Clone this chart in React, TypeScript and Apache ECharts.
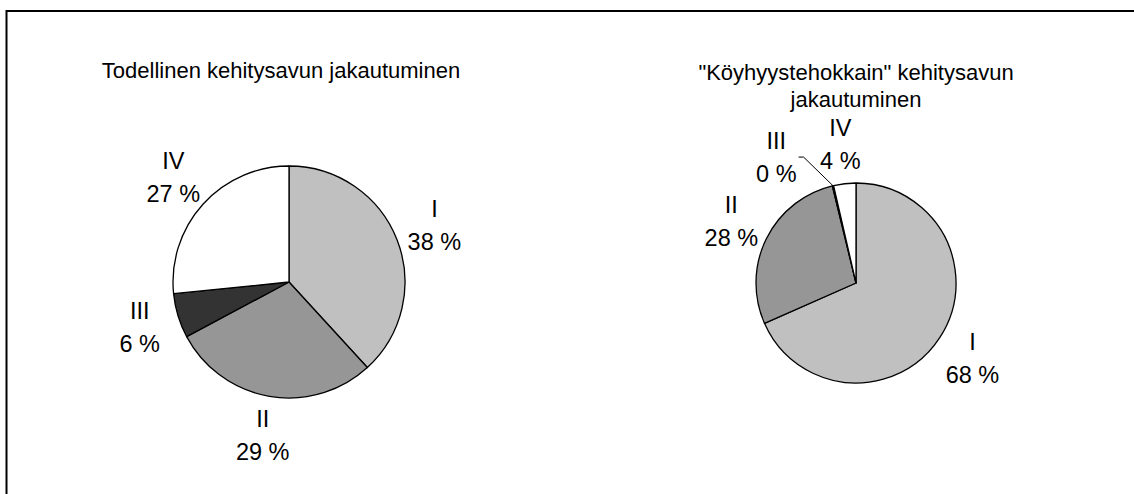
import React, { useEffect, useRef } from "react";
import * as echarts from "echarts";

const categories = ["I", "II", "III", "IV"];
const actualShares = [38.2, 29.0, 6.2, 26.6];
const efficientShares = [68.4, 27.8, 0.2, 3.6];
const titleActual = "Todellinen kehitysavun jakautuminen";
const titleEfficient = "\"Köyhyystehokkain\" kehitysavun\njakautuminen";

const sliceColors = ["#c0c0c0", "#969696", "#333333", "#ffffff"];
const FONT = "'Liberation Sans', Arial, Helvetica, sans-serif";
const TITLE_SIZE = 22;
const LABEL_SIZE = 23.5;

type Special = { shift: number; gap: number };

function makePie(
  values: number[],
  center: [number, number],
  radius: number,
  labelGap: number,
  specials: Record<number, Special>
) {
  const total = values.reduce((a, b) => a + b, 0);
  const mids: number[] = [];
  let cum = 0;
  values.forEach((v) => {
    mids.push(((cum + v / 2) / total) * 2 * Math.PI);
    cum += v;
  });
  return {
    type: "pie",
    center,
    radius,
    startAngle: 90,
    clockwise: true,
    percentPrecision: 0,
    avoidLabelOverlap: false,
    silent: true,
    data: values.map((v, i) => ({
      name: categories[i],
      value: v,
      itemStyle: { color: sliceColors[i] },
      labelLine: { show: !!specials[i] },
    })),
    itemStyle: { borderColor: "#000", borderWidth: 1.3 },
    label: {
      show: true,
      position: "outside",
      formatter: "{b}\n{d} %",
      fontSize: LABEL_SIZE,
      lineHeight: 33,
      color: "#000",
      fontFamily: FONT,
    },
    labelLine: {
      show: false,
      length: 10,
      length2: 5,
      lineStyle: { color: "#000", width: 1 },
    },
    labelLayout: (params: any) => {
      const i = params.dataIndex;
      const sp = specials[i];
      const ang = mids[i] + (sp ? sp.shift : 0);
      const dist = radius + (sp ? sp.gap : labelGap);
      const x = center[0] + dist * Math.sin(ang);
      const y = center[1] - dist * Math.cos(ang);
      const res: any = { x, y, align: "center", verticalAlign: "middle" };
      if (sp) {
        const ex = center[0] + radius * Math.sin(mids[i]);
        const ey = center[1] - radius * Math.cos(mids[i]);
        const rx = x + params.labelRect.width / 2;
        res.labelLinePoints = [
          [ex, ey],
          [rx + 7, y],
          [rx + 2, y],
        ];
      }
      return res;
    },
  };
}

export default function App() {
  const ref = useRef<HTMLDivElement>(null);
  useEffect(() => {
    if (!ref.current) return;
    const chart = echarts.init(ref.current, null, { renderer: "svg" });
    const deg = Math.PI / 180;
    chart.setOption({
      animation: false,
      backgroundColor: "#ffffff",
      graphic: [
        {
          type: "rect",
          shape: { x: 6.5, y: 11, width: 1400, height: 700 },
          style: { fill: "none", stroke: "#000", lineWidth: 2 },
          silent: true,
        },
        {
          type: "text",
          x: 281,
          y: 70,
          style: {
            text: titleActual,
            font: `${TITLE_SIZE}px ${FONT}`,
            fill: "#000",
            align: "center",
            verticalAlign: "middle",
          },
        },
        {
          type: "text",
          x: 856,
          y: 86,
          style: {
            text: titleEfficient,
            font: `${TITLE_SIZE}px ${FONT}`,
            lineHeight: 27,
            fill: "#000",
            align: "center",
            verticalAlign: "middle",
          },
        },
      ],
      series: [
        makePie(actualShares, [289, 282], 116, 40, {}),
        makePie(efficientShares, [856, 283], 100, 39, {
          2: { shift: -19 * deg, gap: 49 },
        }),
      ],
    });
    return () => chart.dispose();
  }, []);
  return (
    <div
      ref={ref}
      style={{ position: "fixed", left: 0, top: 0, width: 1134, height: 494 }}
    />
  );
}
